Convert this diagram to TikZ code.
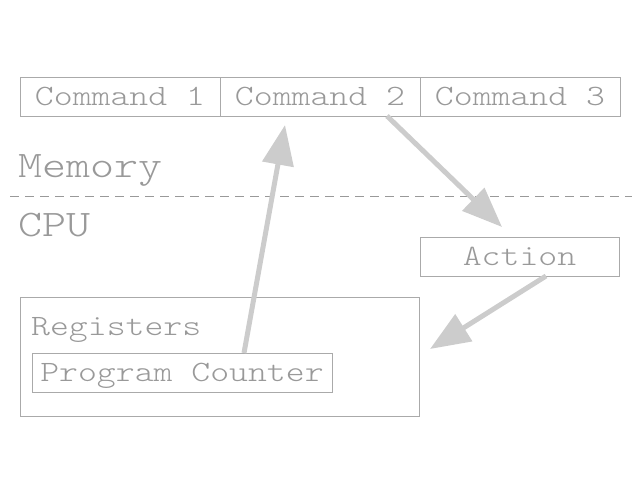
\documentclass[tikz,border=0pt]{standalone}
\usepackage{fontspec}
\newfontfamily\monofnt{lmmonolt10-regular.otf}[FakeStretch=1.22]
\usetikzlibrary{arrows.meta}
\definecolor{txt}{HTML}{999999}
\definecolor{edgec}{HTML}{AAAAAA}
\definecolor{arr}{HTML}{CCCCCC}
\newcommand{\smallmono}{\monofnt\fontsize{29.5}{30}\selectfont}
\newcommand{\bigmono}{\monofnt\fontsize{37.5}{38}\selectfont}
\tikzset{
  box/.style={draw=edgec, line width=1pt, inner sep=0pt, text=txt, font=\smallmono,
    text height=18pt, text depth=0pt, minimum height=39pt},
  lbl/.style={inner sep=0pt, text=txt, anchor=base west},
  flow/.style={draw=arr, line width=5pt, -{Triangle[length=40pt,width=31pt]}},
  sep/.style={draw=txt, line width=1pt, dash pattern=on 9pt off 6pt}
}
\begin{document}
\begin{tikzpicture}[x=1pt,y=-1pt]
\useasboundingbox (0,0) rectangle (640,480);
% memory cells
\node[box, minimum width=200pt] (c1) at (120,96.5) {Command 1};
\node[box, minimum width=200pt] (c2) at (320,96.5) {Command 2};
\node[box, minimum width=200pt] (c3) at (520,96.5) {Command 3};
% region labels
\node[lbl, font=\bigmono] (mem) at (18,177) {Memory};
\coordinate (dl) at (10,196);
\coordinate (dr) at (632,196);
\draw[sep] (dl) -- (dr);
\node[lbl, font=\bigmono] (cpu) at (18,236) {CPU};
% CPU parts
\node[box, minimum width=199pt] (act) at (519.5,256.5) {Action};
\node[box, minimum width=399pt, minimum height=119pt] (reg) at (219.5,356.5) {};
\node[lbl, font=\smallmono] (regl) at (31,335) {Registers};
\node[box, minimum width=300pt] (pc) at (182,372.5) {Program Counter};
% arrows
\coordinate (s1) at (244,353);
\coordinate (t1) at (285,125);
\coordinate (s2) at (387,116);
\coordinate (t2) at (502,227);
\coordinate (s3) at (546,276);
\coordinate (t3) at (430,349);
\draw[flow] (s1) -- (t1);
\draw[flow] (s2) -- (t2);
\draw[flow] (s3) -- (t3);
\end{tikzpicture}
\end{document}
